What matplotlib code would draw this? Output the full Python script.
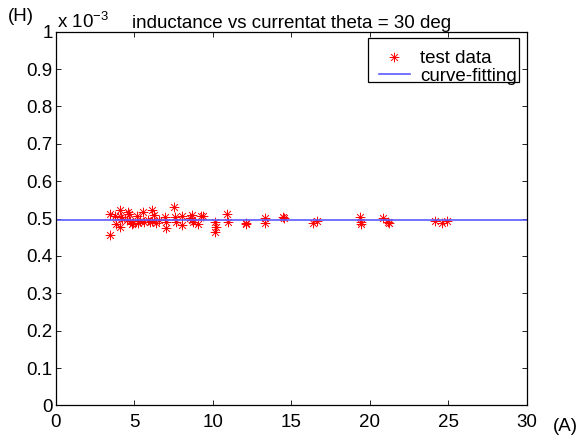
import numpy as np
import matplotlib.pyplot as plt
from matplotlib.path import Path
from matplotlib.patches import Rectangle

plt.rcParams['font.family'] = ['Liberation Sans', 'DejaVu Sans']
plt.rcParams['mathtext.fontset'] = 'custom'
plt.rcParams['mathtext.rm'] = 'Liberation Sans'

# measured current (A) and inductance (x 1e-3 H)
current = [3.50, 3.50, 3.80, 3.85, 4.12, 4.17, 4.12, 4.22, 4.60, 4.68,
           4.54, 4.85, 4.95, 5.20, 5.27, 5.55, 5.62, 6.02, 6.13, 6.27,
           6.13, 6.42, 6.97, 7.04, 7.06, 7.55, 7.62, 7.65, 8.06, 8.06,
           8.57, 8.68, 8.70, 8.78, 9.10, 9.25, 9.38, 10.16, 10.20, 10.16,
           10.94, 11.00, 12.13, 12.13, 13.34, 13.34, 14.47, 14.55, 16.42, 16.64,
           19.39, 19.44, 19.44, 20.88, 21.20, 21.22, 24.17, 24.60, 24.90,
           4.75, 5.40, 5.90, 6.60]
inductance = [0.512, 0.456, 0.507, 0.485, 0.524, 0.505, 0.478, 0.499, 0.518, 0.512,
              0.496, 0.485, 0.489, 0.508, 0.489, 0.517, 0.492, 0.492, 0.523, 0.510,
              0.494, 0.487, 0.505, 0.492, 0.476, 0.530, 0.505, 0.490, 0.506, 0.482,
              0.501, 0.510, 0.496, 0.491, 0.485, 0.507, 0.507, 0.492, 0.478, 0.465,
              0.511, 0.492, 0.489, 0.485, 0.501, 0.489, 0.505, 0.501, 0.489, 0.494,
              0.503, 0.492, 0.485, 0.501, 0.492, 0.489, 0.494, 0.487, 0.494,
              0.494, 0.494, 0.497, 0.495]

# fitted curve
fit_x = [0, 30]
fit_y = [0.495, 0.495]

xticks = [0, 5, 10, 15, 20, 25, 30]
yticks = [0, 0.1, 0.2, 0.3, 0.4, 0.5, 0.6, 0.7, 0.8, 0.9, 1]
ytick_labels = ['0', '0.1', '0.2', '0.3', '0.4', '0.5', '0.6', '0.7', '0.8', '0.9', '1']

fs = 13.5

# matlab style asterisk: + with shorter diagonals
d = 0.7
verts = [(-1, 0), (1, 0), (0, -1), (0, 1),
         (-d, -d), (d, d), (-d, d), (d, -d)]
codes = [Path.MOVETO, Path.LINETO] * 4
asterisk = Path(verts, codes)

fig = plt.figure(figsize=(5.77, 4.41), dpi=100)
ax = fig.add_axes([0.0962, 0.0807, 0.8166, 0.8474])

ax.plot(current, inductance, linestyle='none', marker=asterisk, color='red',
        markersize=7, markeredgewidth=0.7, label='test data')
ax.plot(fit_x, fit_y, color='#5a5aff', linewidth=1.2, label='curve-fitting')

ax.set_xlim(0, 30)
ax.set_ylim(0, 1)
ax.set_xticks(xticks)
ax.set_yticks(yticks)
ax.set_yticklabels(ytick_labels)
ax.tick_params(direction='in', top=True, right=True, length=3.5, width=0.6,
               labelsize=fs)
ax.tick_params(axis='x', pad=6.5)
ax.tick_params(axis='y', pad=2)
for s in ax.spines.values():
    s.set_linewidth(0.9)

ax.set_title('inductance vs currentat theta = 30 deg', fontsize=fs, pad=2.5)
fig.text(0.014, 0.963, '(H)', fontsize=fs, va='center')
fig.text(0.098, 0.936, r'x 10$^{\mathregular{-3}}$', fontsize=fs, va='baseline')
fig.text(0.958, 0.034, '(A)', fontsize=fs, va='center', ha='left')

# legend box is narrower than its text, as matlab draws it
ax.add_patch(Rectangle((0.663, 0.865), 0.321, 0.118, transform=ax.transAxes,
                       facecolor='white', edgecolor='black', linewidth=0.9,
                       zorder=3))
leg = ax.legend(loc='upper left', bbox_to_anchor=(379 / 577, 1 - 50 / 441),
                bbox_transform=fig.transFigure, fontsize=fs, frameon=False,
                borderpad=0, borderaxespad=0, handlelength=1.65,
                labelspacing=0.02, handletextpad=0.55)
leg.set_zorder(4)

fig.savefig('out.png', dpi=100)
